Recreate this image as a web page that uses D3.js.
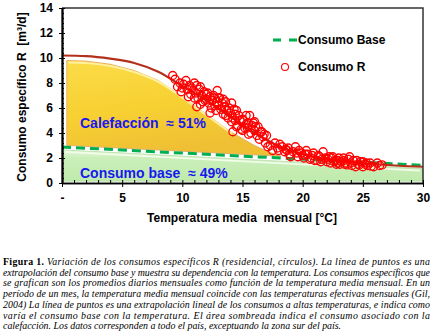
<!DOCTYPE html>
<html>
<head>
<meta charset="utf-8">
<script src="https://cdn.jsdelivr.net/npm/d3@7"></script>
<style>
  body { margin: 0; background: #fff; }
  svg text { font-family: "Liberation Sans", Arial, sans-serif; }
</style>
</head>
<body>
<div id="chart-area"></div>
<script>
/*
*    consumo R vs temperatura
*/

var width = 440;
var height = 334;
var plot = {left: 62, right: 423, top: 8, bottom: 183};

// scatter: consumo R (temperatura media mensual, m3/d)
var tempR = [9.2, 9.4, 9.6, 9.8, 10.0, 10.1, 9.9,
    10.3, 10.4, 10.6, 10.7, 10.8, 10.9, 11.0, 10.5, 11.0,
    11.1, 11.2, 11.3, 11.4, 11.5, 11.6, 11.7, 11.8, 11.9, 12.0, 11.5, 11.2,
    12.1, 12.2, 12.3, 12.4, 12.5, 12.6, 12.7, 12.8, 12.9, 13.0, 12.3, 12.7, 13.0,
    13.1, 13.2, 13.3, 13.4, 13.5, 13.6, 13.7, 13.8, 13.9, 14.0, 13.4, 14.1, 14.1,
    14.2, 14.3, 14.4, 14.5, 14.6, 14.7, 14.8, 14.9, 15.0, 14.5, 14.2, 15.0,
    15.1, 15.2, 15.3, 15.4, 15.5, 15.6, 15.7, 15.8, 15.9, 16.0, 16.0, 15.5,
    16.2, 16.3, 16.5, 16.6, 16.7, 16.8, 17.0, 16.4,
    16.9, 17.1, 17.3, 17.5, 17.7, 17.9, 18.1, 18.3, 18.5, 18.6,
    18.7, 18.9, 19.0, 19.2, 19.4, 19.6, 19.7, 19.9, 20.0,
    20.1, 20.3, 20.4, 20.6, 20.8, 20.9, 21.0,
    21.2, 21.3, 21.4, 21.6, 21.7, 21.9, 22.0,
    22.2, 22.3, 22.4, 22.5, 22.7, 22.8, 22.9, 22.9, 23.0,
    23.2, 23.4, 23.4, 23.5, 23.7, 23.8, 23.9, 24.0,
    24.2, 24.4, 24.5, 24.6, 24.8, 25.0, 25.0,
    25.2, 25.4, 25.6, 25.9, 26.2, 26.4, 26.6,
    12.0, 12.9, 13.6, 14.4, 15.3, 16.1, 18.0, 18.8, 19.5, 20.2,
    20.7, 21.5, 22.1, 22.6, 23.1, 23.6, 24.1, 24.7, 25.3, 25.7];
var consumoR = [8.6, 8.3, 7.7, 8.0, 7.6, 7.9, 7.3,
    8.2, 7.5, 7.8, 7.1, 7.6, 7.4, 8.0, 6.9, 6.8,
    7.2, 7.8, 6.8, 7.5, 7.7, 7.0, 6.5, 7.3, 6.6, 7.1, 6.3, 6.1,
    7.2, 6.4, 6.9, 6.0, 6.6, 7.0, 6.2, 5.8, 6.5, 6.8, 5.6, 6.8, 6.2,
    6.8, 5.9, 6.4, 5.5, 6.1, 6.5, 5.8, 5.2, 6.0, 5.6, 6.7, 6.4, 4.9,
    5.2, 5.9, 5.0, 5.8, 4.6, 5.4, 5.0, 4.3, 5.1, 4.5, 4.1, 4.2,
    5.0, 4.4, 5.4, 4.4, 4.8, 5.4, 4.0, 4.6, 4.8, 4.2, 4.9, 3.9,
    3.8, 4.5, 4.1, 4.1, 3.7, 3.9, 3.8, 3.5,
    3.2, 2.9, 3.0, 2.6, 3.2, 2.8, 3.1, 2.9, 2.5, 2.7,
    2.6, 2.3, 2.1, 2.5, 2.9, 2.1, 2.6, 2.4, 2.2,
    2.0, 2.6, 2.3, 1.9, 2.2, 2.4, 1.8,
    1.8, 2.2, 2.1, 1.9, 2.5, 2.0, 1.7,
    2.1, 1.6, 2.0, 2.1, 1.8, 1.5, 1.8, 1.6, 2.0,
    1.7, 1.8, 2.0, 1.5, 1.45, 1.9, 2.1, 1.6,
    1.8, 1.3, 1.8, 1.5, 1.7, 1.3, 1.7,
    1.5, 1.4, 1.6, 1.3, 1.6, 1.4, 1.45,
    6.7, 7.4, 5.4, 5.5, 4.7, 4.5, 2.6, 2.8, 2.4, 2.3,
    2.0, 1.7, 1.9, 1.7, 1.5, 1.6, 1.4, 1.45, 1.6, 1.35];

// curva de ajuste
var curvaT = [0, 2, 4, 6, 8, 10, 12, 14, 16, 18, 20, 22, 24, 26, 28, 30];
var curvaR = [10.2, 10.15, 9.95, 9.6, 8.9, 7.75, 6.6, 5.3, 4.0, 2.95, 2.3, 1.9, 1.65, 1.5, 1.38, 1.3];

// consumo base (linea de puntos)
var baseT = [0, 30];
var baseV = [2.88, 1.42];

// area de calefaccion (borde superior)
var calefT = [0.4, 2, 4, 6, 8, 10, 12, 14, 16, 17, 18.2];
var calefV = [9.8, 9.75, 9.5, 9.0, 8.2, 6.9, 5.5, 4.1, 3.0, 2.55, 2.12];

// area de consumo base
var areaBaseT = [0.1, 30];
var areaBaseV = [2.65, 1.15];

var yTicks = [0, 2, 4, 6, 8, 10, 12, 14];
var xTicks = [0, 5, 10, 15, 20, 25, 30];

var captionLines = [
  ["Figura 1.", " Variación de los consumos específicos R (residencial, círculos). La línea de puntos es una"],
  ["", "extrapolación del consumo base y muestra su dependencia con la temperatura. Los consumos específicos que"],
  ["", "se grafican son los promedios diarios mensuales como función de la temperatura media mensual. En un"],
  ["", "período de un mes, la temperatura media mensual coincide con las temperaturas efectivas mensuales (Gil,"],
  ["", "2004) La línea de puntos es una extrapolación lineal de los consumos a altas temperaturas, e indica como"],
  ["", "varía el consumo base con la temperatura. El área sombreada indica el consumo asociado con la"],
  ["", "calefacción. Los datos corresponden a todo el país, exceptuando la zona sur del país."]
];

var svg = d3.select("#chart-area").append("svg").attr("width", width).attr("height", height);

var x = d3.scaleLinear().domain([0, 30]).range([plot.left, plot.right]);
var y = d3.scaleLinear().domain([0, 14]).range([plot.bottom, plot.top]);

var defs = svg.append("defs");
var gy = defs.append("linearGradient").attr("id", "gradYellow").attr("x1", 0).attr("y1", 0).attr("x2", 0.3).attr("y2", 1);
gy.append("stop").attr("offset", "0%").attr("stop-color", "#fbdc48");
gy.append("stop").attr("offset", "55%").attr("stop-color", "#f7d032");
gy.append("stop").attr("offset", "100%").attr("stop-color", "#efbf34");
var gg = defs.append("linearGradient").attr("id", "gradGreen").attr("x1", 0).attr("y1", 0).attr("x2", 0).attr("y2", 1);
gg.append("stop").attr("offset", "0%").attr("stop-color", "#e4f8d8");
gg.append("stop").attr("offset", "25%").attr("stop-color", "#cbefba");
gg.append("stop").attr("offset", "100%").attr("stop-color", "#c0eaad");

// areas
var greenPts = [[areaBaseT[0], 0.15], [areaBaseT[0], areaBaseV[0]], [areaBaseT[1], areaBaseV[1]], [areaBaseT[1], 0.15]];
svg.append("path")
    .attr("d", d3.line().x((d) => x(d[0])).y((d) => y(d[1]))(greenPts) + "Z")
    .attr("fill", "url(#gradGreen)").attr("stroke", "#b4dca2").attr("stroke-width", 0.8);
svg.append("line")
    .attr("x1", x(areaBaseT[0]) + 2).attr("y1", y(areaBaseV[0]) + 2)
    .attr("x2", x(areaBaseT[1]) - 3).attr("y2", y(areaBaseV[1]) + 2)
    .attr("stroke", "#f2fcea").attr("stroke-width", 2);

var baseAt = (t) => baseV[0] + (baseV[1] - baseV[0]) * (t - baseT[0]) / (baseT[1] - baseT[0]);
var yellowPts = calefT.map((t, i) => [t, calefV[i]]);
yellowPts.push([calefT[calefT.length - 1], baseAt(calefT[calefT.length - 1]) + 0.15]);
yellowPts.push([calefT[0], baseAt(calefT[0]) + 0.15]);
svg.append("path")
    .attr("d", d3.line().x((d) => x(d[0])).y((d) => y(d[1])).curve(d3.curveLinearClosed)(yellowPts))
    .attr("fill", "url(#gradYellow)").attr("stroke", "#e8b060").attr("stroke-width", 1);
svg.append("path")
    .attr("d", d3.line().x((d) => x(d[0]) + 1.5).y((d) => y(d[1]) + 2).curve(d3.curveMonotoneX)(yellowPts.slice(0, 8)))
    .attr("fill", "none").attr("stroke", "#fff0a0").attr("stroke-width", 2);

// consumo base
svg.append("line")
    .attr("x1", x(baseT[0])).attr("y1", y(baseV[0]))
    .attr("x2", x(baseT[1])).attr("y2", y(baseV[1]))
    .attr("stroke", "#00b050").attr("stroke-width", 3).attr("stroke-dasharray", "9,5");

// curva
svg.append("path")
    .attr("d", d3.line().x((d, i) => x(curvaT[i])).y((d) => y(d)).curve(d3.curveMonotoneX)(curvaR))
    .attr("fill", "none").attr("stroke", "#b3301c").attr("stroke-width", 2.2);

// puntos
svg.append("g").selectAll("circle").data(consumoR).enter().append("circle")
    .attr("cx", (d, i) => x(tempR[i]))
    .attr("cy", (d) => y(d))
    .attr("r", 4)
    .attr("fill", "none").attr("stroke", "#ff0000").attr("stroke-width", 1.3);

// marco
svg.append("path")
    .attr("d", "M" + plot.left + "," + plot.top + "H" + plot.right + "V" + plot.bottom)
    .attr("fill", "none").attr("stroke", "#333").attr("stroke-width", 1.5);

// ejes
var yAxis = svg.append("g").attr("transform", "translate(" + plot.left + ",0)")
    .call(d3.axisLeft(y).tickValues(yTicks).tickSize(3).tickSizeOuter(0).tickPadding(6));
svg.append("g").attr("transform", "translate(" + plot.left + ",0)")
    .call(d3.axisRight(y).tickValues(d3.range(0, 14.01, 0.4)).tickSize(2).tickSizeOuter(0).tickFormat(""));
svg.append("g").attr("transform", "translate(" + plot.left + ",0)")
    .call(d3.axisRight(y).tickValues(yTicks).tickSize(3).tickSizeOuter(0).tickFormat(""));

var xAxis = svg.append("g").attr("transform", "translate(0," + plot.bottom + ")")
    .call(d3.axisBottom(x).tickValues(xTicks).tickSize(4).tickSizeOuter(0).tickPadding(6)
        .tickFormat((d) => d == 0 ? "-" : d));
svg.append("g").attr("transform", "translate(0," + plot.bottom + ")")
    .call(d3.axisTop(x).tickValues(d3.range(0, 31, 1)).tickSize(3).tickSizeOuter(0).tickFormat(""));

svg.selectAll(".domain").attr("stroke", "#000").attr("stroke-width", 1.6);
svg.selectAll(".tick line").attr("stroke", "#000").attr("stroke-width", 1);
svg.selectAll(".tick text").attr("font-size", "12px").attr("font-weight", "bold").attr("fill", "#000")
    .attr("font-family", "Liberation Sans, Arial, sans-serif");

// titulos
svg.append("text").attr("x", 242).attr("y", 222).attr("text-anchor", "middle")
    .attr("font-size", "12px").attr("font-weight", "bold").style("white-space", "pre")
    .text("Temperatura media  mensual [°C]");
svg.append("text").attr("transform", "translate(26,97) rotate(-90)").attr("text-anchor", "middle")
    .attr("font-size", "12px").attr("font-weight", "bold").style("white-space", "pre")
    .text("Consumo específico R  [m³/d]");

// anotaciones
svg.append("text").attr("x", 80).attr("y", 128).attr("font-size", "14px").attr("font-weight", "bold")
    .attr("fill", "#1818f0").style("white-space", "pre").text("Calefacción  ≈ 51%");
svg.append("text").attr("x", 80).attr("y", 178).attr("font-size", "14px").attr("font-weight", "bold")
    .attr("fill", "#1818f0").style("white-space", "pre").text("Consumo base  ≈ 49%");

// leyenda
var legend = svg.append("g");
legend.append("line").attr("x1", 273).attr("x2", 297).attr("y1", 40).attr("y2", 40)
    .attr("stroke", "#00b050").attr("stroke-width", 3).attr("stroke-dasharray", "8,8");
legend.append("text").attr("x", 298).attr("y", 44).attr("font-size", "12px").attr("font-weight", "bold").text("Consumo Base");
legend.append("circle").attr("cx", 285).attr("cy", 67).attr("r", 3.5)
    .attr("fill", "none").attr("stroke", "#ff0000").attr("stroke-width", 1.1);
legend.append("text").attr("x", 298).attr("y", 71).attr("font-size", "12px").attr("font-weight", "bold").text("Consumo R");

// pie de figura
var caption = svg.append("g");
captionLines.forEach((line, i) => {
    var t = caption.append("text").attr("x", 3).attr("y", 265 + i * 10.7)
        .style("font-family", "Liberation Serif, 'Times New Roman', serif").attr("font-size", "9.9px").attr("fill", "#000");
    if (i < captionLines.length - 1) {
        t.attr("textLength", 427).attr("lengthAdjust", "spacing");
    }
    if (line[0] != "") {
        t.append("tspan").attr("font-weight", "bold").text(line[0]);
    }
    t.append("tspan").attr("font-style", "italic").text(line[1]);
});
</script>
</body>
</html>
